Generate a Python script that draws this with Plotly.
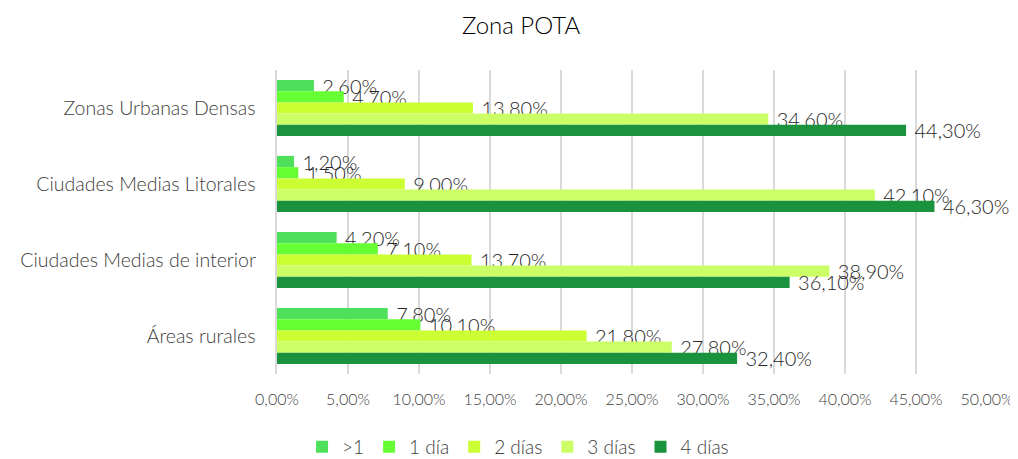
import plotly.graph_objects as go

categories = ["Zonas Urbanas Densas", "Ciudades Medias Litorales", "Ciudades Medias de interior", "Áreas rurales"]
series_names = [">1", "1 día", "2 días", "3 días", "4 días"]
v_gt1 = [2.6, 1.2, 4.2, 7.8]
v_1dia = [4.7, 1.5, 7.1, 10.1]
v_2dias = [13.8, 9.0, 13.7, 21.8]
v_3dias = [34.6, 42.1, 38.9, 27.8]
v_4dias = [44.3, 46.3, 36.1, 32.4]
colors = ["#4EE05A", "#66FF33", "#CCFF33", "#CCFF66", "#1B923E"]
tick_vals = [0, 5, 10, 15, 20, 25, 30, 35, 40, 45, 50]
tick_text = [f"{v:.2f}%".replace(".", ",") for v in tick_vals]

FONT = "Lato"
TXT = "#404040"
fig = go.Figure()
for name, vals, col in zip(series_names, [v_gt1, v_1dia, v_2dias, v_3dias, v_4dias], colors):
    fig.add_trace(go.Bar(
        y=categories, x=vals, name=name, orientation="h",
        marker=dict(color=col, line=dict(width=0)),
        texttemplate="\u00a0%{x:.2f}%", textposition="outside",
        textfont=dict(size=20, color="#262626", family=FONT, weight=300),
        constraintext="none", cliponaxis=False,
    ))

fig.update_layout(
    width=1010, height=451,
    barmode="group", bargap=0.26, bargroupgap=0,
    separators=",.",
    paper_bgcolor="white", plot_bgcolor="white",
    margin=dict(l=269, r=31, t=62, b=85),
    title=dict(text="Zona POTA", x=0.508, xanchor="center", y=0.962, yanchor="middle",
               font=dict(size=24, color="#000000", family=FONT, weight=300)),
    font=dict(family=FONT, color=TXT, weight=300),
    xaxis=dict(range=[0, 50], tickmode="array", tickvals=tick_vals, ticktext=tick_text,
               showgrid=True, gridcolor="#D9D9D9", gridwidth=1.5, zeroline=False,
               showline=False, automargin=False, ticklen=0, ticklabelstandoff=14,
               tickfont=dict(size=16, color=TXT, family=FONT, weight=300)),
    yaxis=dict(autorange="reversed", showgrid=False, showline=True, linecolor="#D9D9D9",
               linewidth=1.5, automargin=False, ticklen=0,
               tickfont=dict(size=19.5, color=TXT, family=FONT, weight=300), ticksuffix="   "),
    legend=dict(orientation="h", xref="container", yref="container",
                x=0.505, xanchor="center", y=0.027, yanchor="middle",
                traceorder="normal", itemwidth=30,
                font=dict(size=19, color=TXT, family=FONT, weight=300)),
)
fig.write_html("out.html")
